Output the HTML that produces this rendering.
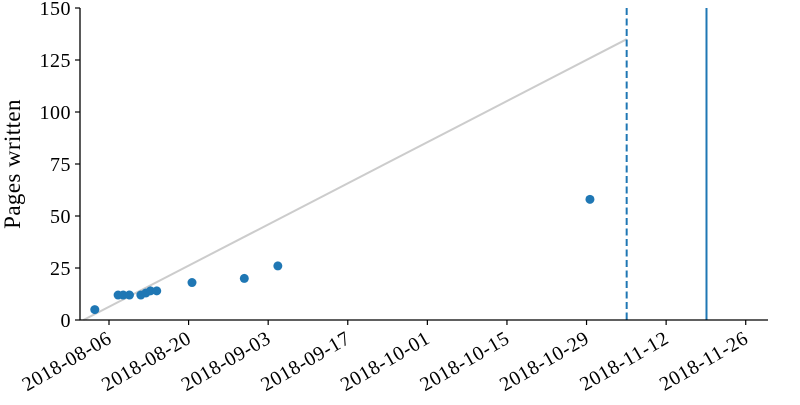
<!DOCTYPE html>
<html><head><meta charset="utf-8"><style>
html,body{margin:0;padding:0;background:#fff;}
svg text{font-family:"Liberation Serif","DejaVu Serif",serif;fill:#000;}
</style></head><body>
<svg id="chart" width="800" height="400" xmlns="http://www.w3.org/2000/svg"></svg>
<script>
// data: days since 2018-08-06
const pointDays = [-2.5, 1.6, 2.5, 3.6, 5.6, 6.5, 7.3, 8.4, 14.6, 23.8, 29.7, 84.6];
const pointPages = [5, 12, 12, 12, 12, 13, 14, 14, 18, 20, 26, 58];
const trendDays = [-4.5, 91.06];
const trendPages = [0, 135];
const dashedDay = 91.06;
const solidDay = 105.1;
const xTickDays = [0, 14, 28, 42, 56, 70, 84, 98, 112];
const xTickLabels = ["2018-08-06","2018-08-20","2018-09-03","2018-09-17","2018-10-01","2018-10-15","2018-10-29","2018-11-12","2018-11-26"];
const yTicks = [0, 25, 50, 75, 100, 125, 150];

const svg = document.getElementById('chart');
const NS = 'http://www.w3.org/2000/svg';
const L = 80, R = 768, T = 8, B = 320;
const x = d => 109 + d * 5.685;
const y = v => B - (v / 150) * (B - T);
function mk(tag, attrs, parent) {
  const e = document.createElementNS(NS, tag);
  for (const k in attrs) e.setAttribute(k, attrs[k]);
  (parent || svg).appendChild(e);
  return e;
}
let e = mk('line', {x1: x(trendDays[0]), y1: y(trendPages[0]), x2: x(trendDays[1]), y2: y(trendPages[1]), stroke: '#cccccc', 'stroke-width': 2});


e = mk('line', {x1: x(dashedDay), y1: T, x2: x(dashedDay), y2: B, stroke: '#1f77b4', 'stroke-width': 2, 'stroke-dasharray': '7,3.5'});


e = mk('line', {x1: x(solidDay), y1: T, x2: x(solidDay), y2: B, stroke: '#1f77b4', 'stroke-width': 2});


pointDays.forEach((d, i) => {
  const c = mk('circle', {cx: x(d), cy: y(pointPages[i]), r: 4.5, fill: '#1f77b4'});
  
  
});
e = mk('line', {x1: L, y1: T, x2: L, y2: B + 0.5, stroke: '#000', 'stroke-width': 1.3});


e = mk('line', {x1: L - 0.5, y1: B, x2: R, y2: B, stroke: '#000', 'stroke-width': 1.3});


yTicks.forEach(v => {
  mk('line', {x1: L - 5, y1: y(v), x2: L, y2: y(v), stroke: '#000', 'stroke-width': 1.2});
  const t = mk('text', {x: L - 9, y: y(v) + 7, 'text-anchor': 'end', 'font-size': 20, 'letter-spacing': 0.5});
  t.textContent = v;
  
  
});
xTickDays.forEach((d, i) => {
  mk('line', {x1: x(d), y1: B, x2: x(d), y2: B + 5, stroke: '#000', 'stroke-width': 1.2});
  const t = mk('text', {x: x(d) + 4, y: B + 22, 'text-anchor': 'end', 'font-size': 20, 'letter-spacing': 0.6, transform: `rotate(-30 ${x(d) + 4} ${B + 22})`});
  t.textContent = xTickLabels[i];
  
  
});
e = mk('text', {x: 20, y: 164, 'text-anchor': 'middle', 'font-size': 23, 'letter-spacing': 0.4, transform: 'rotate(-90 20 164)'});
e.textContent = 'Pages written';


</script>
</body></html>
